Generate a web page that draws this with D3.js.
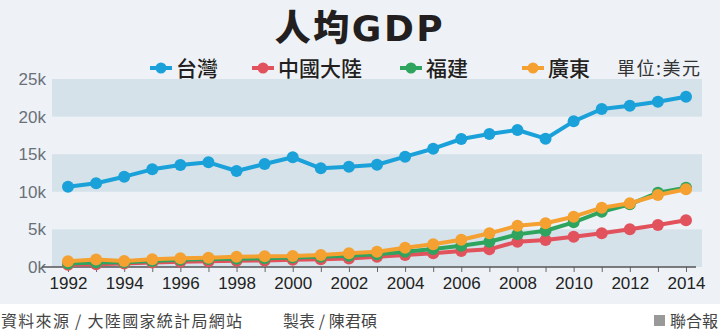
<!DOCTYPE html>
<html><head><meta charset="utf-8">
<script src="https://cdn.jsdelivr.net/npm/d3@7"></script>
<style>
html,body{margin:0;padding:0;background:#fff;}
svg{display:block;}
</style></head>
<body>
<svg id="chart" width="720" height="331"></svg>
<script>
const years = d3.range(1992, 2015);
const taiwan = [10680,11130,12010,12990,13560,13920,12770,13700,14590,13120,13340,13600,14670,15730,17020,17690,18220,17060,19370,21010,21450,21980,22650];
const china  = [300,380,470,600,700,780,830,870,950,1040,1140,1370,1600,1820,2130,2350,3370,3590,4030,4480,5010,5590,6210];
const fujian = [450,600,620,800,950,1050,1100,1150,1250,1350,1500,1690,2040,2390,2830,3350,4340,4820,5940,7350,8330,9880,10540];
const guangdong = [780,1000,800,1020,1150,1240,1370,1420,1460,1600,1820,2040,2570,3020,3630,4480,5490,5810,6690,7890,8470,9570,10330];
const yTicks = [0,5000,10000,15000,20000,25000];
const xTicks = [1992,1994,1996,1998,2000,2002,2004,2006,2008,2010,2012,2014];
const seriesNames = ["台灣","中國大陸","福建","廣東"];
const seriesColors = ["#1ba1d9","#e2525d","#2ea45e","#f4a132"];

const svg = d3.select("#chart");
const font = "'Liberation Sans Narrow', 'Liberation Sans', Arial, sans-serif";
const cjk = "'Noto Sans CJK TC', sans-serif";
svg.append("rect").attr("width",720).attr("height",304).attr("fill","#eef2f7");

const x = d3.scaleLinear().domain([1992,2014]).range([68,686]);
const y = d3.scaleLinear().domain([0,25000]).range([267,79]);
const plotL = 52, plotR = 702;

// bands
[[0,5000],[10000,15000],[20000,25000]].forEach(b=>{
  svg.append("rect").attr("x",plotL).attr("width",plotR-plotL)
    .attr("y",y(b[1])).attr("height",y(b[0])-y(b[1])).attr("fill","#d5e2ea");
});

// y axis labels
svg.append("g").selectAll("text").data(yTicks).join("text")
  .attr("x",46).attr("y",d=>y(d)+6).attr("text-anchor","end")
  .attr("font-family",font).attr("font-size",17).attr("fill","#6a7078")
  .text(d=>d3.format("d")(d/1000)+"k");

// x axis
const xAxis = d3.axisBottom(x).tickValues(years).tickSize(5).tickFormat(d=>xTicks.includes(d)?d:"");
const gx = svg.append("g").attr("transform","translate(0,267)").call(xAxis);
gx.select(".domain").remove();
gx.append("line").attr("x1",plotL-10).attr("x2",plotR-6).attr("stroke","#555").attr("stroke-width",1.5);
gx.selectAll(".tick line").attr("stroke","#666");
gx.selectAll(".tick text").attr("font-family",font).attr("font-size",17).attr("fill","#222").attr("dy","0.85em");

// lines
const data = [china, fujian, guangdong, taiwan];
const cols = [seriesColors[1],seriesColors[2],seriesColors[3],seriesColors[0]];
const line = d3.line().x((d,i)=>x(years[i])).y(d=>y(d));
data.forEach((s,k)=>{
  const g = svg.append("g");
  g.append("path").attr("d",line(s)).attr("fill","none").attr("stroke",cols[k]).attr("stroke-width",4).attr("stroke-linejoin","round");
  g.selectAll("circle").data(s).join("circle")
    .attr("cx",(d,i)=>x(years[i])).attr("cy",d=>y(d)).attr("r",6).attr("fill",cols[k]);
});

// title
const t = svg.append("text").attr("x",360).attr("y",41).attr("text-anchor","middle")
  .attr("font-weight",900).attr("font-size",36).attr("fill","#231f20").attr("letter-spacing",2.5);
t.append("tspan").attr("font-family",cjk).text("人均");
t.append("tspan").attr("font-family","'DejaVu Sans', sans-serif").attr("font-weight","bold").text("GDP");

// legend
const legX = [161, 263, 411, 533];
seriesNames.forEach((n,i)=>{
  const g = svg.append("g").attr("transform",`translate(${legX[i]},68)`);
  g.append("line").attr("x1",-11).attr("x2",11).attr("stroke",seriesColors[i]).attr("stroke-width",4);
  g.append("circle").attr("r",5.5).attr("fill",seriesColors[i]);
  g.append("text").attr("x",15).attr("y",7.5).attr("font-family",cjk)
    .attr("font-size",21).attr("font-weight",500).attr("fill","#231f20").text(n);
});
svg.append("text").attr("x",617).attr("y",75)
  .attr("font-family",cjk).attr("font-size",18).attr("fill","#333")
  .attr("textLength",83).attr("lengthAdjust","spacing").text("單位:美元");

// footer
svg.append("text").attr("x",1).attr("y",327).attr("font-family",cjk)
  .attr("font-size",16).attr("fill","#444").attr("textLength",241).attr("lengthAdjust","spacing")
  .text("資料來源 / 大陸國家統計局網站");
svg.append("text").attr("x",283).attr("y",327).attr("font-family",cjk)
  .attr("font-size",16).attr("fill","#444").attr("textLength",94).attr("lengthAdjust","spacing")
  .text("製表 / 陳君碩");
svg.append("rect").attr("x",654).attr("y",315).attr("width",11).attr("height",11).attr("fill","#999");
svg.append("text").attr("x",718).attr("y",327).attr("text-anchor","end").attr("font-family",cjk)
  .attr("font-size",16).attr("fill","#444").text("聯合報");
</script>
</body></html>
